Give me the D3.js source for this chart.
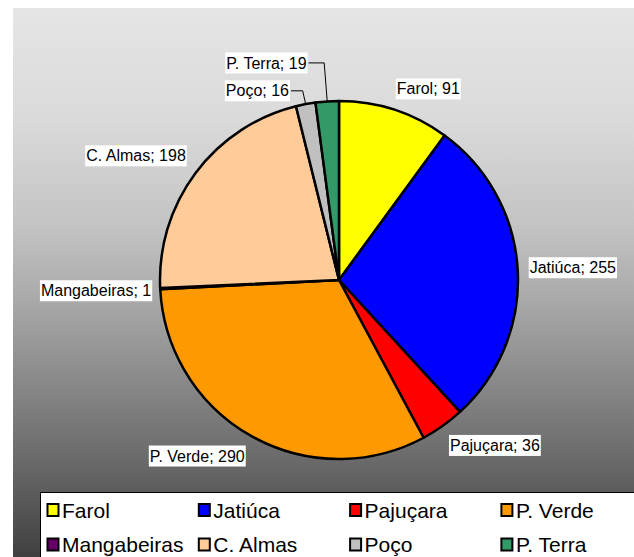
<!DOCTYPE html>
<html>
<head>
<meta charset="utf-8">
<script src="https://cdn.jsdelivr.net/npm/d3@7"></script>
<style>
    html, body { margin: 0; padding: 0; background: #fff; overflow: hidden; }
    text { font-family: "Liberation Sans", Arial, sans-serif; }
</style>
</head>
<body>
<script>
var bairros = ['Farol', 'Jatiúca', 'Pajuçara', 'P. Verde', 'Mangabeiras', 'C. Almas', 'Poço', 'P. Terra'];
var valores = [91, 255, 36, 290, 1, 198, 16, 19];
var cores = ['#FFFF00', '#0000FF', '#FF0000', '#FF9900', '#660066', '#FFCC99', '#C0C0C0', '#339966'];

// labels that were dragged away from the pie (drawn with a leader line)
var labelNudge = { 'Poço': [-28, 8], 'P. Terra': [-52, -17] };

window.document.addEventListener('DOMContentLoaded', init, false);

function init() {
    var width = 634, height = 557;
    var svg = d3.select('body').append('svg')
        .attr('width', width)
        .attr('height', height);

    drawBackground(svg, width, height);

    var data = bairros.map((b, i) => ({ name: b, value: valores[i], color: cores[i] }));
    var group = svg.append('g').attr('transform', 'translate(339, 280)');
    drawPie(group, data, 179);
    drawLegend(svg, data);
}

function drawBackground(svg, width, height) {
    var grad = svg.append('defs').append('linearGradient')
        .attr('id', 'bg')
        .attr('gradientUnits', 'userSpaceOnUse')
        .attr('x1', 0).attr('y1', 8)
        .attr('x2', 0).attr('y2', height);
    var stops = [[8, '#e5e5e5'], [120, '#dadada'], [230, '#c2c2c2'], [300, '#a9a9a9'], [460, '#6a6a6a'], [557, '#404040']];
    stops.forEach((s) => {
        grad.append('stop')
            .attr('offset', (s[0] - 8) / (height - 8))
            .attr('stop-color', s[1]);
    });

    svg.append('rect')
        .attr('x', 13).attr('y', 8)
        .attr('width', width).attr('height', height)
        .attr('fill', 'url(#bg)');
}

function drawPie(group, data, radius) {
    var pie = d3.pie().sort(null).value((d) => d.value);
    var arcs = pie(data);
    var arc = d3.arc().innerRadius(0).outerRadius(radius);

    group.selectAll('.slice')
        .data(arcs)
        .enter()
            .append('path')
            .attr('class', 'slice')
            .attr('d', arc)
            .attr('fill', (d) => d.data.color)
            .attr('stroke', '#000')
            .attr('stroke-width', 2.5)
            .attr('stroke-linejoin', 'round');

    arcs.forEach((d) => putLabel(group, d, radius));
}

function putLabel(group, d, radius) {
    var mid = (d.startAngle + d.endAngle) / 2;
    var s = Math.sin(mid), c = Math.cos(mid);
    var clamp = (v) => Math.max(-1, Math.min(1, v));
    var anchorR = 190;
    var px = anchorR * s, py = -anchorR * c;

    var lbl = group.append('g');
    var txt = lbl.append('text')
        .attr('font-size', 16)
        .attr('fill', '#000')
        .attr('text-anchor', 'middle')
        .attr('dy', '0.35em')
        .text(`${d.data.name}; ${d.data.value}`);
    var w = txt.node().getComputedTextLength() + 2;
    var h = 21;

    var cx = px + (w / 2) * clamp(s * 3);
    var cy = py - (h / 2) * clamp(c * 3);
    if (d.data.name === 'Mangabeiras') cx += 3;
    var nudge = labelNudge[d.data.name];
    if (nudge) {
        cx += nudge[0];
        cy += nudge[1];
        // leader line from the right side of the box to the slice edge
        var ex = radius * s, ey = -radius * c;
        var sx = cx + w / 2 + 1;
        group.insert('path', 'g')
            .attr('d', `M${sx},${cy}H${ex - 3}L${ex},${ey}`)
            .attr('fill', 'none')
            .attr('stroke', '#000')
            .attr('stroke-width', 1);
    }

    lbl.insert('rect', 'text')
        .attr('x', cx - w / 2).attr('y', cy - h / 2)
        .attr('width', w).attr('height', h)
        .attr('fill', '#fff');
    txt.attr('x', cx).attr('y', cy);
}

function drawLegend(svg, data) {
    svg.append('rect')
        .attr('x', 40.5).attr('y', 492.5)
        .attr('width', 700).attr('height', 100)
        .attr('fill', '#fff')
        .attr('stroke', '#000')
        .attr('stroke-width', 1);

    var item = svg.selectAll('.legend')
        .data(data)
        .enter()
            .append('g')
            .attr('class', 'legend')
            .attr('transform', (d, i) => `translate(${47 + (i % 4) * 151.3}, ${510 + Math.floor(i / 4) * 34.5})`);

    item.append('rect')
        .attr('x', 0.5).attr('y', -6)
        .attr('width', 11).attr('height', 12)
        .attr('fill', (d) => d.color)
        .attr('stroke', '#000')
        .attr('stroke-width', 2);

    item.append('text')
        .attr('x', 15)
        .attr('dy', '0.36em')
        .attr('font-size', 21)
        .attr('fill', '#000')
        .text((d) => d.name);
}
</script>
</body>
</html>
